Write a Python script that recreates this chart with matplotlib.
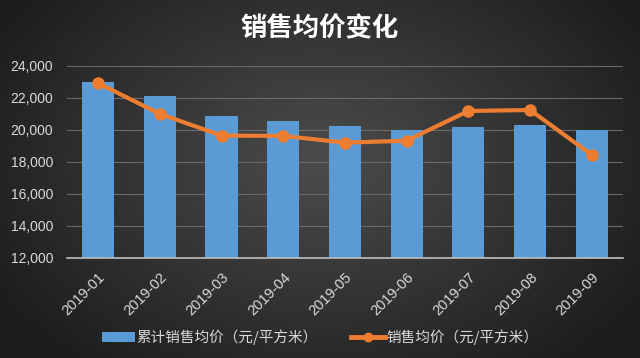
import numpy as np
import matplotlib
matplotlib.use("Agg")
import matplotlib.pyplot as plt
from matplotlib.lines import Line2D
from matplotlib.patches import Patch

plt.rcParams['font.family'] = ['Noto Sans CJK SC', 'DejaVu Sans']

categories = ['2019-01', '2019-02', '2019-03', '2019-04', '2019-05',
              '2019-06', '2019-07', '2019-08', '2019-09']
cumulative_price = [22980, 22140, 20890, 20560, 20220, 19990, 20180, 20330, 20000]
monthly_price = [22920, 21000, 19640, 19620, 19200, 19320, 21180, 21240, 18430]
yticks = [12000, 14000, 16000, 18000, 20000, 22000, 24000]

fig = plt.figure(figsize=(6.4, 3.58), dpi=100)

# radial gradient background
bg = fig.add_axes([0, 0, 1, 1], zorder=-10)
h, w = 358, 640
yy, xx = np.mgrid[0:h, 0:w]
cx, cy = w * 0.5, h * 0.45
r = np.sqrt(((xx - cx) / (w * 0.6)) ** 2 + ((yy - cy) / (h * 0.75)) ** 2)
r = np.clip(r, 0, 1)
inner = np.array([0x4c, 0x4c, 0x4c]) / 255.0
outer = np.array([0x1c, 0x1c, 0x1c]) / 255.0
img = inner[None, None, :] * (1 - r[..., None]) + outer[None, None, :] * r[..., None]
bg.imshow(img, aspect='auto', extent=[0, 1, 0, 1], origin='upper')
bg.axis('off')

ax = fig.add_axes([0.105, 0.280, 0.868, 0.536])
ax.set_facecolor('none')
x = np.arange(len(categories))
ax.bar(x, cumulative_price, width=0.52, color='#5B9BD5', zorder=2)
ax.plot(x, monthly_price, color='#ED7D31', lw=3, marker='o', ms=8, zorder=3)

ax.set_ylim(12000, 24000)
ax.set_xlim(-0.5, len(categories) - 0.5)
ax.set_yticks(yticks)
ax.set_yticklabels([f'{v:,}' for v in yticks], color='#d9d9d9', fontsize=10,
                   family=['Liberation Sans', 'DejaVu Sans'])
ax.set_xticks(x)
ax.set_xticklabels(categories, rotation=45, ha='right', rotation_mode='anchor',
                   color='#d9d9d9', fontsize=10.5, family=['Liberation Sans', 'DejaVu Sans'])
ax.tick_params(axis='y', length=0, pad=10)
ax.tick_params(axis='x', length=0, pad=9)
ax.grid(axis='y', color='#6a6a6a', lw=0.8, zorder=0)
for s in ['top', 'right', 'left']:
    ax.spines[s].set_visible(False)
ax.spines['bottom'].set_color('#bfbfbf')
ax.spines['bottom'].set_linewidth(1.2)

fig.text(0.5, 0.92, '销售均价变化', ha='center', va='center', color='white',
         fontsize=19, fontweight='bold')

handles = [Patch(facecolor='#5B9BD5', edgecolor='none'),
           Line2D([0], [0], color='#ED7D31', lw=3.5, marker='o', ms=6)]
labels = ['累计销售均价（元/平方米）', '销售均价（元/平方米）']
leg = fig.legend(handles, labels, loc='center', bbox_to_anchor=(0.5, 0.058), ncol=2,
                 frameon=False, fontsize=10.5, labelcolor='#d9d9d9',
                 handlelength=2.3, handleheight=0.7, handletextpad=0.1, columnspacing=2.3)

fig.savefig('out.png', dpi=100)
